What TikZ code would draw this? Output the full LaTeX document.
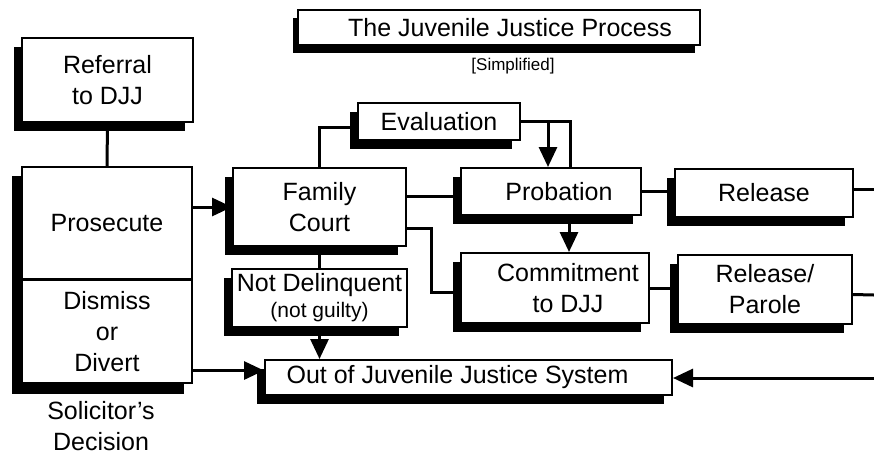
\documentclass[tikz,border=0pt]{standalone}
\usepackage{fontspec}
\setmainfont{Liberation Sans}
\usetikzlibrary{positioning}
\usetikzlibrary{shadows}
\usetikzlibrary{backgrounds}
\usetikzlibrary{arrows.meta}

\begin{document}
\begin{tikzpicture}[x=1pt, y=-1pt,
        font = \fontsize{25}{31}\selectfont,
        boxbase/.style = {draw, line width=2pt, fill=white,
            align=center, inner sep=0pt},
        box/.style = {boxbase,
            drop shadow={shadow xshift=-8pt, shadow yshift=-9pt, fill=black, opacity=1}},
        titlebox/.style = {boxbase,
            drop shadow={shadow xshift=-5pt, shadow yshift=-8pt, fill=black, opacity=1}},
        link/.style = {line width=3pt},
        arr/.style = {link, -{Triangle[length=20pt,width=18pt]}}]
    \useasboundingbox (0,0) rectangle (874,456);
    % title
    \node[titlebox, minimum width=402pt, minimum height=35pt] (title) at (499,27.5)
        {\hspace*{22pt}The Juvenile Justice Process};
    \node[font=\fontsize{17}{20}\selectfont] (simplified) at (513,66) {[Simplified]};
    % solicitor column
    \node[box, minimum width=171pt, minimum height=84pt] (referral) at (107.5,80)
        {Referral\\to DJJ};
    \node[boxbase, minimum width=170pt, minimum height=112pt] (prosecute) at (107,223)
        {Prosecute};
    \node[boxbase, minimum width=170pt, minimum height=103pt, anchor=north] (dismiss)
        at ([yshift=1pt]prosecute.south) {Dismiss\\or\\Divert};
    \begin{scope}[on background layer]
        \fill ([shift={(-9,10)}]dismiss.south west) rectangle ([shift={(-9,10)}]prosecute.north east);
    \end{scope}
    \node[inner sep=0pt, align=center, below=17pt of dismiss, xshift=-6pt] (solicitor)
        {Solicitor’s\\Decision};
    % court
    \node[box, minimum width=173pt, minimum height=78pt] (family) at (319.5,207)
        {Family\\Court};
    \node[box, minimum width=162pt, minimum height=37pt] (evaluation) at (439,121.5)
        {Evaluation};
    \node[box, minimum width=175pt, minimum height=58pt] (notdel) at (319.5,298)
        {Not Delinquent\\[-5pt]{\fontsize{21}{24}\selectfont (not guilty)}};
    % dispositions
    \node[box, minimum width=180pt, minimum height=47pt] (probation) at (551,191.5)
        {\hspace*{16pt}Probation};
    \node[box, minimum width=188pt, minimum height=70pt] (commitment) at (555,288)
        {\hspace*{26pt}Commitment\\\hspace*{26pt}to DJJ};
    \node[box, minimum width=178pt, minimum height=48pt] (release) at (764,193)
        {Release};
    \node[box, minimum width=174pt, minimum height=69pt] (parole) at (765,289.5)
        {Release/\\Parole};
    \node[box, minimum width=407pt, minimum height=35pt] (out) at (468.5,377.5)
        {Out of Juvenile Justice System\hspace*{22pt}};
    % loose ends at the right margin
    \coordinate (edgeA) at (874,189);
    \coordinate (edgeB) at (874,295);
    \coordinate (edgeC) at (874,378);
    \coordinate (d1) at ([yshift=7pt]out.west);
    % connectors
    \draw[link] (referral.south) -- (prosecute.north);
    \draw[arr] (prosecute.east |- family.west) -- (family.west);
    \draw[arr] (d1 -| dismiss.east) -- (d1);
    \draw[link] (family.north) |- ([yshift=-6pt]evaluation.west);
    \draw[link] (evaluation.east) -| ([xshift=19pt]probation.north);
    \draw[arr] ([xshift=-3pt]probation.north |- evaluation.east) -- ([xshift=-3pt]probation.north);
    \draw[link] ([yshift=11pt]family.east) -- ([yshift=11pt]family.east -| probation.west);
    \draw[link] ([yshift=-21pt]family.east) -- ++(24,0) |- ([yshift=-4pt]commitment.west);
    \draw[arr] ([xshift=18pt]probation.south) -- ([xshift=18pt]probation.south |- commitment.north);
    \draw[link] (family.south) -- (notdel.north);
    \draw[arr] (notdel.south) -- (notdel.south |- out.north);
    \draw[link] (probation.east) -- (probation.east -| release.west);
    \draw[link] ([yshift=4pt]release.east) -- (edgeA);
    \draw[link] (commitment.east) -- (commitment.east -| parole.west);
    \draw[link] ([yshift=-5pt]parole.east) -- (edgeB);
    \draw[arr] (edgeC) -- (edgeC -| out.east);
\end{tikzpicture}
\end{document}
